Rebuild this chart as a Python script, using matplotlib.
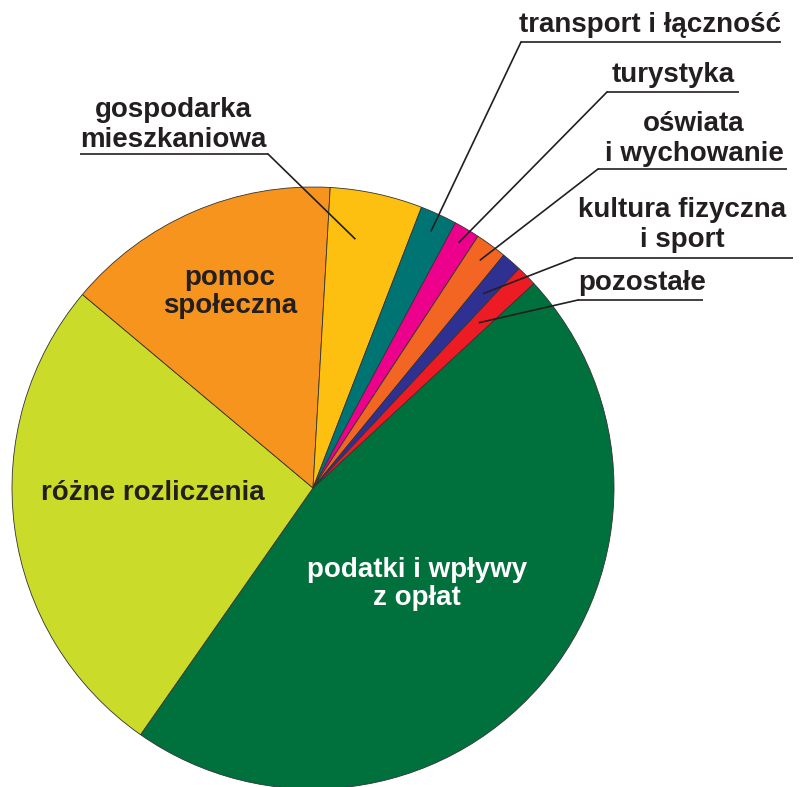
import numpy as np
import matplotlib.pyplot as plt

# udział w dochodach (%), kolejność zgodnie z ruchem wskazówek zegara
categories = ["podatki i wpływy z opłat", "różne rozliczenia", "pomoc społeczna",
              "gospodarka mieszkaniowa", "transport i łączność", "turystyka",
              "oświata i wychowanie", "kultura fizyczna i sport", "pozostałe"]
shares = [46.6, 26.4, 14.8, 4.96, 1.97, 1.39, 1.69, 1.08, 1.11]
colors = ["#00703C", "#CBDB2A", "#F7941D", "#FDC010", "#007473",
          "#EC008C", "#F26522", "#2E3192", "#ED1C24"]

W, H = 808, 787
TXT = "#231F20"
plt.rcParams["font.family"] = ["Liberation Sans", "DejaVu Sans"]

fig = plt.figure(figsize=(W / 100, H / 100), dpi=100)
ax = fig.add_axes([0, 0, 1, 1])

cx, cy, R = 313, H - 488, 301
start = 42.8
wedges, _ = ax.pie(shares, colors=colors, startangle=start, counterclock=False,
                   center=(cx, cy), radius=R, frame=True,
                   wedgeprops=dict(edgecolor="#333333", linewidth=0.6))
ax.set_xlim(0, W)
ax.set_ylim(0, H)
ax.set_aspect("equal")
ax.axis("off")


def py(y):
    return H - y


def draw_label(lines, x, y0, step=30, color=TXT):
    for i, s in enumerate(lines):
        ax.text(x, py(y0 + i * step), s, ha="center", va="baseline",
                fontsize=20, fontweight="bold", color=color)


# etykiety wewnątrz wycinków
draw_label(["podatki i wpływy", "z opłat"], 417, 577, step=28, color="white")
draw_label(["różne rozliczenia"], 153, 500)
draw_label(["pomoc", "społeczna"], 230, 285, step=28)

# etykiety zewnętrzne: tekst, pozioma kreska, odnośnik do wycinka
outer = [
    # (index, lines, text x, baseline y, underline x0, x1, y, side, r frac, angle frac)
    (3, ["gospodarka", "mieszkaniowa"], 173, 117, 80, 268, 154, "right", 0.84, 0.65),
    (4, ["transport i łączność"], 650, 32, 521, 781, 42, "left", 0.94, 0.5),
    (5, ["turystyka"], 673, 82, 607, 739, 92, "left", 0.95, 0.5),
    (6, ["oświata", "i wychowanie"], 694, 131, 598, 787, 169, "left", 0.94, 0.5),
    (7, ["kultura fizyczna", "i sport"], 682, 217, 575, 793, 258, "left", 0.86, 0.5),
    (8, ["pozostałe"], 642, 290, 578, 703, 300, "left", 0.78, 0.5),
]

for idx, lines, tx, ty, ux0, ux1, uy, side, rf, af in outer:
    w = wedges[idx]
    t0, t1 = sorted([w.theta1, w.theta2])
    ang = np.deg2rad(t0 + af * (t1 - t0))
    ex = cx + rf * R * np.cos(ang)
    ey = cy + rf * R * np.sin(ang)
    draw_label(lines, tx, ty, step=30)
    ax.plot([ux0, ux1], [py(uy), py(uy)], color=TXT, lw=1.2, solid_capstyle="butt")
    sx = ux0 if side == "left" else ux1
    ax.plot([sx, ex], [py(uy), ey], color=TXT, lw=1.2)

fig.savefig("out.png", dpi=100, facecolor="white")
